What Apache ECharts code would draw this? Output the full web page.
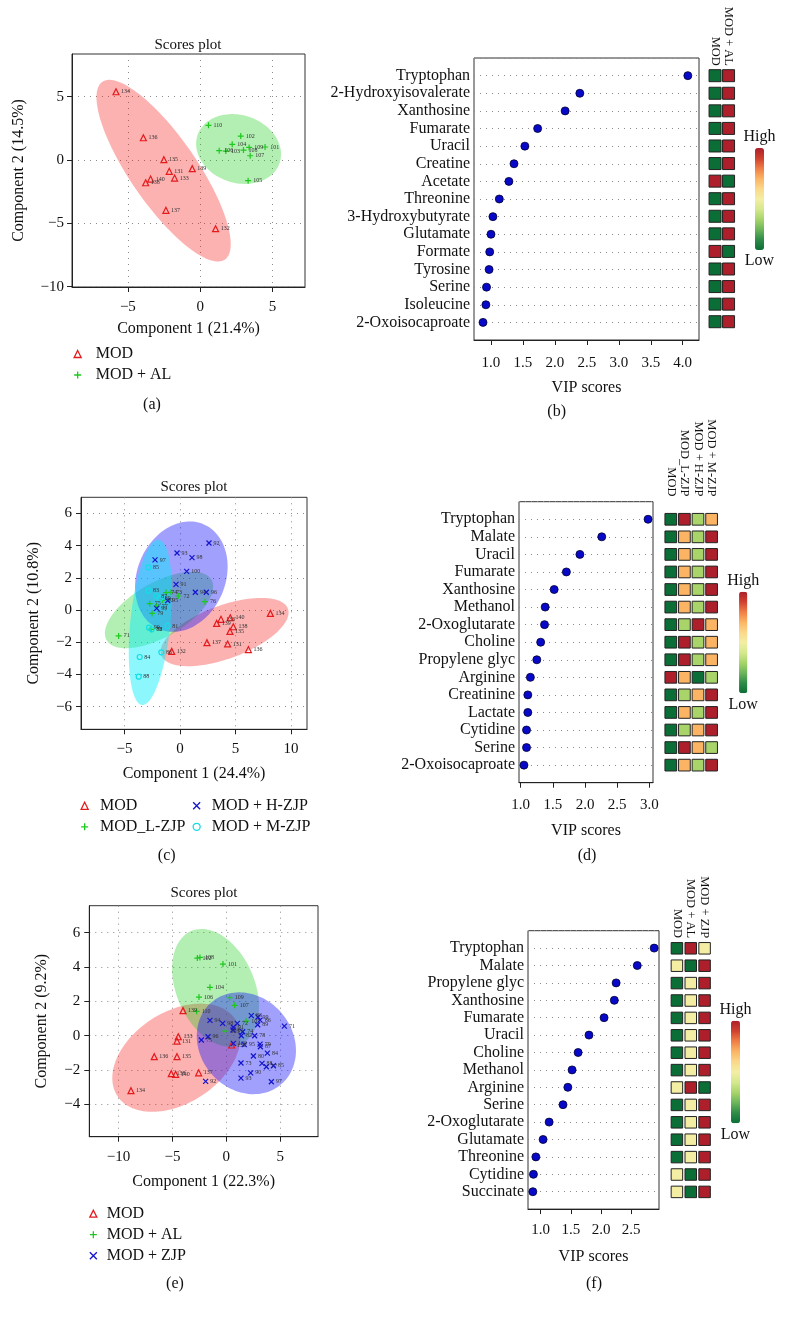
<!DOCTYPE html>
<html><head><meta charset="utf-8">
<script src="https://cdn.jsdelivr.net/npm/echarts@6/dist/echarts.min.js"></script>
<style>html,body{margin:0;padding:0;background:#fff}#c{width:785px;height:1317px}</style>
</head><body><div id="c"></div>
<script>
// ================= DATA =================
// (a) PLS-DA scores: [component1, component2, sample id]
const aMOD = [[-5.82,5.39,'134'],[-3.93,1.76,'136'],[-2.51,0.03,'135'],[-2.14,-0.89,'131'],[-0.55,-0.68,'139'],[-3.43,-1.5,'140'],[-3.77,-1.79,'138'],[-1.77,-1.42,'133'],[-2.37,-3.97,'137'],[1.06,-5.42,'132']];
const aAL = [[0.57,2.74,'110'],[2.80,1.89,'102'],[2.21,1.24,'104'],[1.31,0.74,'106'],[1.77,0.71,'103'],[3.38,1.0,'109'],[2.99,0.79,'108'],[4.48,1.03,'101'],[3.45,0.34,'107'],[3.31,-1.63,'105']];
// confidence ellipses: [centerX, centerY, u.x, u.y, v.x, v.y] (conjugate semi-axes, data units)
const aEllMOD = [-2.53,-0.84,4.25,-7.0,1.86,1.55];
const aEllAL = [2.65,0.87,2.85,-1.05,-0.7,-2.55];

// (b) VIP scores MOD vs MOD + AL
const bNames = ['Tryptophan','2-Hydroxyisovalerate','Xanthosine','Fumarate','Uracil','Creatine','Acetate','Threonine','3-Hydroxybutyrate','Glutamate','Formate','Tyrosine','Serine','Isoleucine','2-Oxoisocaproate'];
const bVIP = [4.08,2.39,2.16,1.73,1.53,1.36,1.28,1.13,1.03,1.0,0.98,0.97,0.93,0.92,0.875];
const bCols = ['MOD','MOD + AL'];
// relative level 0 (low) .. 1 (high)
const bHeat = [[0,1],[0,1],[0,1],[0,1],[0,1],[0,1],[1,0],[0,1],[0,1],[0,1],[1,0],[0,1],[0,1],[0,1],[0,1]];

// (c) scores, four groups
const cMOD = [[8.14,-0.21,'134'],[3.69,-0.58,'133'],[4.53,-0.48,'140'],[3.3,-0.83,'139'],[4.8,-1.04,'138'],[4.5,-1.33,'135'],[2.43,-2.03,'137'],[4.29,-2.11,'131'],[6.16,-2.46,'136'],[-0.75,-2.57,'132']];
const cL = [[-5.53,-1.61,'71'],[-0.15,0.87,'72'],[-0.81,1.1,'73'],[-1.26,1.08,'74'],[-2.73,0.39,'75'],[2.25,0.52,'76'],[-2.1,0.25,'77'],[-2.6,-1.2,'78'],[-2.52,-0.21,'79'],[-1.6,0.6,'80']];
const cH = [[2.61,4.16,'92'],[-0.27,3.54,'93'],[1.08,3.25,'98'],[-2.25,3.11,'97'],[0.6,2.4,'100'],[-0.36,1.59,'91'],[1.38,1.1,'94'],[2.37,1.1,'96'],[-1.11,0.58,'95'],[-2.1,0.1,'99']];
const cM = [[-2.85,2.65,'85'],[-2.85,1.2,'83'],[-2.1,0.87,'87'],[-1.8,0.72,'89'],[-1.11,-0.99,'81'],[-2.79,-1.1,'90'],[-2.55,-1.2,'82'],[-1.68,-2.63,'86'],[-3.63,-2.92,'84'],[-3.72,-4.14,'88']];
const cEllMOD = [4.02,-1.37,5.7,1.45,0.83,-1.55];
const cEllL = [-1.89,0,4.8,1.76,0.87,-1.6];
const cEllH = [0.12,2.07,1.84,3.3,3.74,-0.93];
const cEllM = [-2.67,-0.77,0.75,5.13,1.8,-0.12];

// (d) VIP scores, four groups
const dNames = ['Tryptophan','Malate','Uracil','Fumarate','Xanthosine','Methanol','2-Oxoglutarate','Choline','Propylene glyc','Arginine','Creatinine','Lactate','Cytidine','Serine','2-Oxoisocaproate'];
const dVIP = [2.98,2.26,1.92,1.71,1.52,1.38,1.37,1.31,1.25,1.15,1.11,1.11,1.09,1.09,1.05];
const dCols = ['MOD','MOD_L-ZJP','MOD + H-ZJP','MOD + M-ZJP'];
const dHeat = [[0,1,0.3,0.7],[0,0.7,0.3,1],[0,0.7,0.3,1],[0,0.7,0.3,1],[0,0.7,0.3,1],[0,0.7,0.3,1],[0,0.3,1,0.7],[0,1,0.3,0.7],[0,1,0.3,0.7],[1,0.7,0,0.3],[0,0.3,0.7,1],[0,0.7,0.3,1],[0,0.3,0.7,1],[0,1,0.7,0.3],[0,0.7,0.3,1]];

// (e) scores, three groups
const eMOD = [[-8.85,-3.2,'134'],[-6.69,-1.22,'136'],[-4.58,-1.22,'135'],[-4.46,-0.06,'133'],[-4.58,-0.31,'131'],[-4.02,1.46,'139'],[-5.11,-2.21,'138'],[-4.71,-2.25,'140'],[-2.57,-2.16,'137'],[0.5,-0.54,'132']];
const eAL = [[-2.69,4.52,'102'],[-2.45,4.56,'108'],[-0.31,4.17,'101'],[-1.52,2.82,'104'],[-2.54,2.25,'106'],[0.31,2.21,'109'],[0.77,1.77,'107'],[-2.76,1.42,'110'],[1.83,0.85,'105'],[-0.09,0.27,'103']];
const eZJP = [[5.39,0.56,'71'],[2.32,1.17,'83'],[2.94,1.09,'99'],[3.13,0.91,'86'],[2.91,0.64,'89'],[-1.52,0.89,'94'],[-0.34,0.72,'98'],[1.02,0.72,'72'],[0.65,0.49,'91'],[0.62,0.33,'81'],[1.52,0.23,'74'],[1.39,0.0,'82'],[2.63,0.0,'78'],[-1.7,-0.06,'96'],[-2.32,-0.25,'75'],[0.65,-0.45,'100'],[1.67,-0.52,'95'],[3.13,-0.49,'79'],[3.16,-0.64,'87'],[3.81,-1.01,'84'],[2.51,-1.18,'80'],[1.36,-1.59,'73'],[3.31,-1.61,'88'],[4.37,-1.75,'85'],[3.72,-1.81,'77'],[2.26,-2.16,'90'],[1.36,-2.47,'93'],[4.18,-2.68,'97'],[-1.92,-2.66,'92']];
const eEllMOD = [-4.64,-1.28,5.6,2.1,2.0,-2.35];
const eEllAL = [-1.0,2.79,2.17,-3.33,3.4,0.81];
const eEllZJP = [1.86,-0.44,4.6,-0.3,0.2,-2.95];

// (f) VIP scores, three groups
const fNames = ['Tryptophan','Malate','Propylene glyc','Xanthosine','Fumarate','Uracil','Choline','Methanol','Arginine','Serine','2-Oxoglutarate','Glutamate','Threonine','Cytidine','Succinate'];
const fVIP = [2.88,2.6,2.25,2.22,2.05,1.8,1.62,1.52,1.45,1.37,1.14,1.04,0.92,0.88,0.87];
const fCols = ['MOD','MOD + AL','MOD + ZJP'];
const fHeat = [[0,1,0.5],[0.5,0,1],[0,0.5,1],[0,0.5,1],[0,0.5,1],[0,0.5,1],[0,0.5,1],[0,0.5,1],[0.5,1,0],[0,0.5,1],[0,0.5,1],[0,0.5,1],[0,0.5,1],[0.5,0,1],[0.5,0,1]];

// ================= STYLE =================
const FONT = "'Liberation Serif','Times New Roman',serif";
const RED = '#e41a1c', GREEN = '#1ec81e', BLUE = '#1414cc', CYAN = '#14dde6';
const F_RED = 'rgba(250,20,20,0.33)', F_GREEN = 'rgba(20,205,20,0.32)', F_BLUE = 'rgba(20,20,250,0.40)', F_CYAN = 'rgba(0,238,250,0.45)';
const SYM = { tri: 'triangle', plus: 'path://M0,5L10,5M5,0L5,10', cross: 'path://M0,0L10,10M10,0L0,10', circ: 'circle' };
const RAMP = ['#0b6e36','#2e8b48','#6cb55a','#a8d46a','#d5e88e','#f3eea3','#fbd88a','#fbb464','#f07e46','#d0402f','#ac1f2b'];
const TXT = { fontFamily: FONT, color: '#111' };
const DOT = { show: true, lineStyle: { color: '#8a8a8a', width: 1, type: [1, 5] } };

const isMult = (v, s) => Math.abs(v / s - Math.round(v / s)) < 1e-6;
const fmt = (v, d) => (d ? v.toFixed(d) : String(Math.round(v))).replace('-', '\u2212');

function numAxis(o) {
  return {
    type: 'value', gridIndex: o.g, min: o.min, max: o.max, splitNumber: o.split, position: o.pos,
    name: o.name || '', nameLocation: 'middle', nameGap: o.nameGap || 0, nameTextStyle: { ...TXT, fontSize: 16 },
    axisLine: { show: true, onZero: false, lineStyle: { color: '#222', width: 1 } },
    axisTick: { show: true, inside: false, length: 5, lineStyle: { color: '#222', width: 1 }, customValues: o.ticks },
    axisLabel: { ...TXT, fontSize: 15, margin: o.margin, customValues: o.ticks,
      formatter: v => isMult(v, o.step) ? fmt(v, o.dec) : '' },
    splitLine: o.grid ? DOT : { show: false },
    minorTick: { show: false }, minorSplitLine: { show: false }
  };
}
function vipY(g, names, margin) {
  return {
    type: 'value', gridIndex: g, min: 0, max: 16, interval: 1,
    axisLine: { show: false }, axisTick: { show: false },
    axisLabel: { ...TXT, fontSize: 16, margin,
      formatter: v => { const k = Math.round(v); return (k >= 1 && k <= 15) ? names[15 - k] : ''; } },
    splitLine: DOT
  };
}
function heatX(g, cols, margin) {
  return { type: 'category', gridIndex: g, data: cols, position: 'top',
    axisLine: { show: false }, axisTick: { show: false }, splitLine: { show: false },
    axisLabel: { ...TXT, fontSize: 12.5, rotate: 90, margin, interval: 0 } };
}
function heatY(g, names) {
  return { type: 'category', gridIndex: g, data: names, inverse: true, show: false };
}

function ellipseItem(params, api) {
  const cx = api.value(0), cy = api.value(1), ux = api.value(2), uy = api.value(3), vx = api.value(4), vy = api.value(5);
  const pts = [];
  for (let k = 0; k < 120; k++) {
    const t = k / 120 * Math.PI * 2;
    pts.push(api.coord([cx + ux * Math.cos(t) + vx * Math.sin(t), cy + uy * Math.cos(t) + vy * Math.sin(t)]));
  }
  return { type: 'polygon', shape: { points: pts }, style: { fill: api.visual('color') } };
}
const ell = (g, d, fill) => ({ type: 'custom', xAxisIndex: g, yAxisIndex: g, data: [d], renderItem: ellipseItem,
  itemStyle: { color: fill }, silent: true, z: 1, clip: true });
const pts = (g, name, data, sym, color, size) => ({
  type: 'scatter', name, xAxisIndex: g, yAxisIndex: g, data, symbol: sym, symbolSize: size,
  itemStyle: { color: 'transparent', borderColor: color, borderWidth: 1.2, opacity: 1 },
  label: { show: true, position: 'right', distance: 1.5, formatter: p => p.value[2], fontSize: 6, fontFamily: FONT, color: '#333' },
  silent: true, z: 5 });
const vip = (g, vals) => ({ type: 'scatter', xAxisIndex: g, yAxisIndex: g, data: vals.map((v, i) => [v, 15 - i]),
  symbol: 'circle', symbolSize: 8, itemStyle: { color: '#0808c8', borderColor: '#000030', borderWidth: 0.8, opacity: 1 }, silent: true, z: 5 });
const heat = (g, rows, size) => {
  const data = [];
  rows.forEach((r, i) => r.forEach((v, j) => data.push([j, i, v])));
  return { type: 'scatter', xAxisIndex: g, yAxisIndex: g, data, symbol: 'rect', symbolSize: size,
    itemStyle: { borderColor: '#222', borderWidth: 1, opacity: 1 }, silent: true, z: 5 };
};
const legItem = (name, sym, color) => ({ name, icon: sym, itemStyle: { color: 'transparent', borderColor: color, borderWidth: 1.3 } });
const legend = (left, top, pad, data) => ({ left, top, orient: 'vertical', itemWidth: 7, itemHeight: 7, itemGap: 5,
  symbolKeepAspect: true, selectedMode: false, padding: 0, textStyle: { ...TXT, fontSize: 16, padding: [0, 0, 0, pad] }, data });
const vmap = (si, left, top, h, w) => ({ type: 'continuous', min: 0, max: 1, seriesIndex: si, dimension: 2,
  calculable: false, orient: 'vertical', itemWidth: w, itemHeight: h, text: ['High', 'Low'], textGap: 3, padding: 0,
  left, top, hoverLink: false, textStyle: { ...TXT, fontSize: 16 }, inRange: { color: RAMP } });
const label = (x, y, text, size) => ({ type: 'text', x, y, silent: true,
  style: { text, font: `${size}px ${FONT}`, fill: '#111', align: 'center', verticalAlign: 'middle', textAlign: 'center', textVerticalAlign: 'middle' } });

// ================= LAYOUT =================
const box = { show: true, borderColor: '#333', borderWidth: 1, backgroundColor: 'transparent', containLabel: false, outerBoundsMode: 'none' };
const bare = { show: false, containLabel: false, outerBoundsMode: 'none' };
const grid = [
  { ...box, left: 72, top: 54, width: 233, height: 233 },          // 0 a
  { ...box, left: 474, top: 58, width: 225, height: 282 },         // 1 b
  { ...bare, left: 708.3, top: 66.9, width: 27, height: 263.6 },   // 2 b heat
  { ...box, left: 81, top: 497.3, width: 226, height: 232 },       // 3 c
  { ...box, left: 519, top: 501.7, width: 134, height: 281 },      // 4 d
  { ...bare, left: 664, top: 510.5, width: 54.4, height: 263.4 },  // 5 d heat
  { ...box, left: 89.3, top: 905.7, width: 228.7, height: 231 },   // 6 e
  { ...box, left: 528, top: 930.7, width: 131, height: 278.4 },    // 7 f
  { ...bare, left: 670, top: 939.6, width: 41.5, height: 261 }     // 8 f heat
];
const xAxis = [
  numAxis({ g: 0, min: -8.86, max: 7.24, split: 3, step: 5, ticks: [-5, 0, 5], margin: 13, name: 'Component 1 (21.4%)', nameGap: 34, grid: true }),
  numAxis({ g: 1, min: 0.734, max: 4.255, split: 7, step: 0.5, dec: 1, ticks: [1, 1.5, 2, 2.5, 3, 3.5, 4], margin: 16, name: 'VIP scores', nameGap: 40 }),
  heatX(2, bCols, 1),
  numAxis({ g: 3, min: -8.92, max: 11.44, split: 4, step: 5, ticks: [-5, 0, 5, 10], margin: 12, name: 'Component 1 (24.4%)', nameGap: 36, grid: true }),
  numAxis({ g: 4, min: 0.973, max: 3.057, split: 4, step: 0.5, dec: 1, ticks: [1, 1.5, 2, 2.5, 3], margin: 14.5, name: 'VIP scores', nameGap: 40 }),
  heatX(5, dCols, 14),
  numAxis({ g: 6, min: -12.72, max: 8.51, split: 4, step: 5, ticks: [-10, -5, 0, 5], margin: 13, name: 'Component 1 (22.3%)', nameGap: 37, grid: true }),
  numAxis({ g: 7, min: 0.79, max: 2.96, split: 4, step: 0.5, dec: 1, ticks: [1, 1.5, 2, 2.5], margin: 13.5, name: 'VIP scores', nameGap: 40 }),
  heatX(8, fCols, 1.5)
];
const yAxis = [
  numAxis({ g: 0, min: -10.02, max: 8.37, split: 3, step: 5, ticks: [-10, -5, 0, 5], margin: 8, name: 'Component 2 (14.5%)', nameGap: 45.7, grid: true }),
  vipY(1, bNames, 4),
  heatY(2, bNames),
  numAxis({ g: 3, min: -7.41, max: 7.0, split: 7, step: 2, ticks: [-6, -4, -2, 0, 2, 4, 6], margin: 9, name: 'Component 2 (10.8%)', nameGap: 39.7, grid: true }),
  vipY(4, dNames, 4),
  heatY(5, dNames),
  numAxis({ g: 6, min: -5.88, max: 7.57, split: 7, step: 2, ticks: [-4, -2, 0, 2, 4, 6], margin: 9, name: 'Component 2 (9.2%)', nameGap: 39.6, grid: true }),
  vipY(7, fNames, 4),
  heatY(8, fNames)
];

const series = [
  ell(0, aEllMOD, F_RED), ell(0, aEllAL, F_GREEN),
  pts(0, 'MOD', aMOD, SYM.tri, RED, 6), pts(0, 'MOD + AL', aAL, SYM.plus, GREEN, 6),
  vip(1, bVIP),
  heat(2, bHeat, 12),                                  // index 5
  ell(3, cEllMOD, F_RED), ell(3, cEllL, F_GREEN), ell(3, cEllH, F_BLUE), ell(3, cEllM, F_CYAN),
  pts(3, 'MOD', cMOD, SYM.tri, RED, 6), pts(3, 'MOD_L-ZJP', cL, SYM.plus, GREEN, 6),
  pts(3, 'MOD + H-ZJP', cH, SYM.cross, BLUE, 5), pts(3, 'MOD + M-ZJP', cM, SYM.circ, CYAN, 5),
  vip(4, dVIP),
  heat(5, dHeat, 11.7),                                // index 15
  ell(6, eEllMOD, F_RED), ell(6, eEllAL, F_GREEN), ell(6, eEllZJP, F_BLUE),
  pts(6, 'MOD', eMOD, SYM.tri, RED, 6), pts(6, 'MOD + AL', eAL, SYM.plus, GREEN, 6), pts(6, 'MOD + ZJP', eZJP, SYM.cross, BLUE, 5),
  vip(7, fVIP),
  heat(8, fHeat, 11.5)                                 // index 23
];

const option = {
  animation: false,
  backgroundColor: '#fff',
  textStyle: { fontFamily: FONT },
  grid, xAxis, yAxis, series,
  legend: [
    legend(73.5, 346, 9.5, [legItem('MOD', SYM.tri, RED), legItem('MOD + AL', SYM.plus, GREEN)]),
    legend(80.5, 797.8, 6.8, [legItem('MOD', SYM.tri, RED), legItem('MOD_L-ZJP', SYM.plus, GREEN)]),
    legend(192.5, 797.8, 6.5, [legItem('MOD + H-ZJP', SYM.cross, BLUE), legItem('MOD + M-ZJP', SYM.circ, CYAN)]),
    legend(89.2, 1205.7, 4.8, [legItem('MOD', SYM.tri, RED), legItem('MOD + AL', SYM.plus, GREEN), legItem('MOD + ZJP', SYM.cross, BLUE)])
  ],
  visualMap: [
    vmap(5, 743.5, 129, 102, 9),
    vmap(15, 727.2, 572.7, 101.6, 8.3),
    vmap(23, 719.5, 1001.7, 102.6, 9)
  ],
  graphic: [
    label(188, 45, 'Scores plot', 15), label(194, 486.7, 'Scores plot', 15), label(204, 893, 'Scores plot', 15),
    label(152, 405, '(a)', 16), label(556.7, 411.7, '(b)', 16),
    label(166.7, 855.7, '(c)', 16), label(587, 855.7, '(d)', 16),
    label(175, 1284, '(e)', 16), label(594, 1284, '(f)', 16)
  ]
};
const chart = echarts.init(document.getElementById('c'), null, { renderer: 'canvas', width: 785, height: 1317 });
chart.setOption(option);
</script></body></html>
